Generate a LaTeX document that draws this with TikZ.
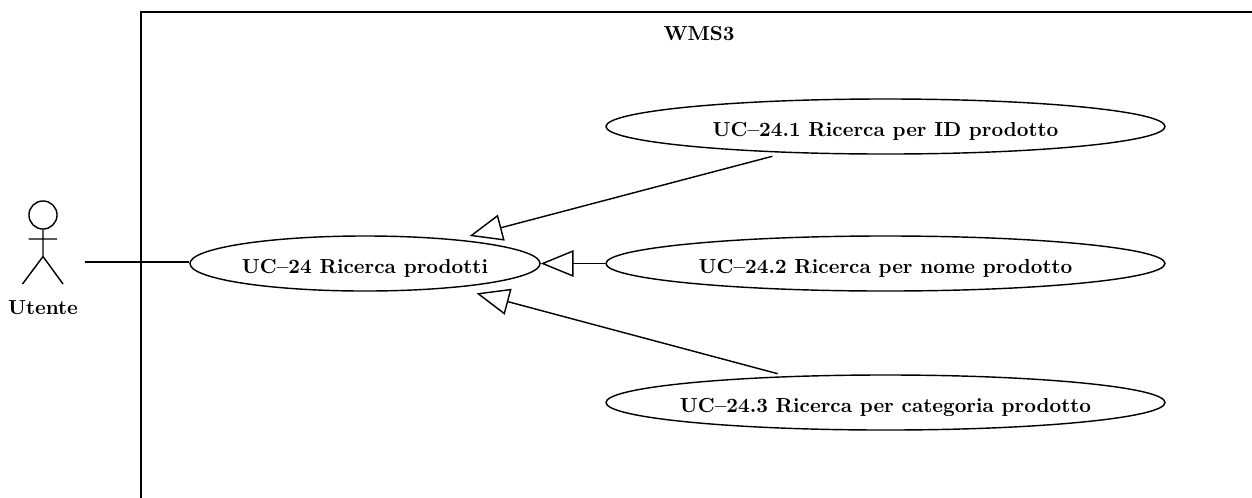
\documentclass[tikz,border=0pt]{standalone}
\usepackage{amsmath}
\usepackage{amssymb}
\usepackage{tikz}
\usetikzlibrary{arrows.meta,shapes.geometric}

\begin{document}
\begin{tikzpicture}[%
    x=0.527pt, y=-0.527pt,
    font=\fontsize{10.7}{13}\selectfont\bfseries,
    line width=0.75pt,
    >={Triangle[open,length=17.3pt,width=14pt]} % Voreinstellung für Pfeilspitzen
    ]
        \tikzset{
            UseCase/.style={ellipse,draw,inner xsep=-20pt,inner ysep=0pt,
                text height=10.6pt,text depth=0pt,
                minimum height=29pt,minimum width=#1},
            Erbt/.style 2 args={->,shorten >=#1,shorten <=#2} % für Generalisierung
        }

        \useasboundingbox (0,0) rectangle (1252,497);

        % Systemgrenze
        \coordinate (F-o) at (1253,12);
        \coordinate (F-e) at (141,12);
        \coordinate (F-u) at (141,498);
        \draw (F-o) -- (F-e) -- (F-u);
        \node (WMS) at (699,34) {WMS3};

        % Anwendungsfälle
        \node[UseCase=184.5pt] (UC) at (365,263.5) {UC--24 Ricerca prodotti};
        \node[UseCase=294.6pt] (UC1) at (885.5,126.5) {UC--24.1 Ricerca per ID prodotto};
        \node[UseCase=294.6pt] (UC2) at (885.5,263.5) {UC--24.2 Ricerca per nome prodotto};
        \node[UseCase=294.6pt] (UC3) at (885.5,402.5) {UC--24.3 Ricerca per categoria prodotto};

        % Akteur
        \node[circle,draw,inner sep=0pt,minimum size=14.8pt] (Kopf) at (43,215) {};
        \coordinate (Huefte) at (43,256.5);
        \coordinate (ArmL) at (28.5,239);
        \coordinate (ArmR) at (57,239);
        \coordinate (BeinL) at (22.5,284);
        \coordinate (BeinR) at (63,284);
        \coordinate (Hand) at (84.5,262);
        \node (Utente) at (43,308) {Utente};
        \draw   (Kopf) -- (Huefte)
                (ArmL) -- (ArmR)
                (BeinL) -- (Huefte) -- (BeinR);

        % Leiter
        \draw (Hand) -- (UC.west |- Hand);
        \draw[Erbt={7.1pt}{7.1pt}] (UC1) -- (UC);
        \draw[Erbt={0pt}{0pt}] (UC2) -- (UC);
        \draw[Erbt={11.4pt}{4.9pt}] (UC3) -- (UC);
\end{tikzpicture}
\end{document}
